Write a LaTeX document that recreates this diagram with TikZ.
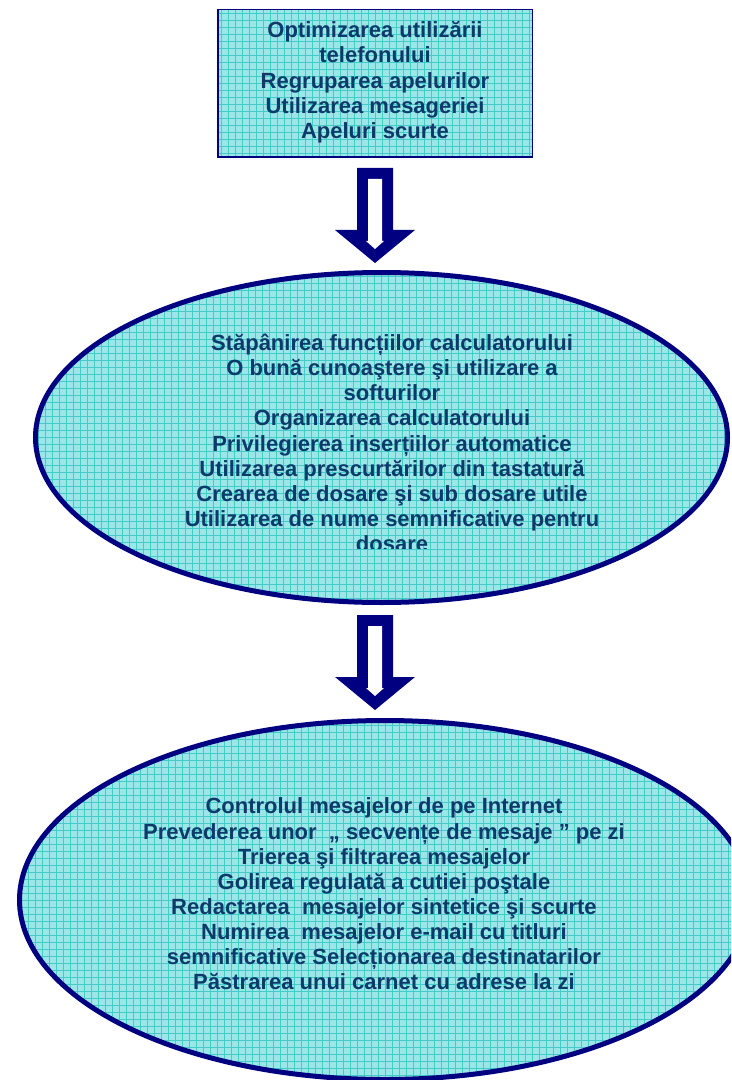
\documentclass[tikz,border=0pt]{standalone}
\usepackage{fontspec}
\setmainfont{Liberation Sans}
\usetikzlibrary{shapes.geometric,calc}
\definecolor{navyc}{HTML}{000080}
\definecolor{cyanbg}{HTML}{9BE6E6}
\definecolor{gridc}{HTML}{45CACA}
\definecolor{textc}{HTML}{0C3B6B}
\tikzset{
  gridfill/.style={fill=cyanbg,
    path picture={\draw[gridc, line width=0.45pt, step=5.25pt]
      ([shift={(-6pt,-6pt)}]path picture bounding box.south west) grid
      ([shift={(6pt,6pt)}]path picture bounding box.north east);}},
  txt/.style={text=textc, font=\bfseries\fontsize{16.5pt}{18.85pt}\selectfont,
    align=center, inner sep=0pt, anchor=base},
  shapeline/.style={draw=navyc, inner sep=0pt},
  blockarrow/.pic={
    \fill[navyc] (-18,0) -- (18,0) -- (18,62) -- (40,62) -- (0,95) -- (-40,62) -- (-18,62) -- cycle;
    \fill[white] (-7,11) -- (7,11) -- (7,73) -- (9,73) -- (0,81) -- (-9,73) -- (-7,73) -- cycle;
  }
}
\begin{document}
\begin{tikzpicture}[x=0.75pt,y=-0.75pt]
\useasboundingbox (0,0) rectangle (731,1080);
\clip (0,0) rectangle (731,1080);

% top box
\node[rectangle, shapeline, line width=1.125pt, gridfill,
      minimum width=314.5*0.75pt, minimum height=147.5*0.75pt] (box) at (375,83.5) {};
% anchor=base is the baseline of the last line
\node[txt] (boxtext) at (375,138.3)
  {Optimizarea utilizării\\telefonului\\Regruparea apelurilor\\Utilizarea mesageriei\\Apeluri scurte};

% first ellipse
\node[ellipse, shapeline, line width=3.75pt, gridfill,
      minimum width=692*0.75pt, minimum height=330*0.75pt] (e1) at (381.5,437.5) {};
\begin{scope}
  \clip (0,0) rectangle (731,548);
  \node[txt] (e1text) at (392,551.6)
    {Stăpânirea funcțiilor calculatorului\\
     O bună cunoaştere şi utilizare a\\
     softurilor\\
     Organizarea calculatorului\\
     Privilegierea inserțiilor automatice\\
     Utilizarea prescurtărilor din tastatură\\
     Crearea de dosare şi sub dosare utile\\
     Utilizarea de nume semnificative pentru\\
     dosare};
\end{scope}

% second ellipse
\node[ellipse, shapeline, line width=3.75pt, gridfill,
      minimum width=731*0.75pt, minimum height=359*0.75pt] (e2) at (385,900) {};
\node[txt] (e2text) at (384,989.9)
  {Controlul mesajelor de pe Internet\\
   Prevederea unor\ \ „ secvențe de mesaje ” pe zi\\
   Trierea şi filtrarea mesajelor\\
   Golirea regulată a cutiei poştale\\
   Redactarea\ \ mesajelor sintetice şi scurte\\
   Numirea\ \ mesajelor e-mail cu titluri\\
   semnificative Selecționarea destinatarilor\\
   Păstrarea unui carnet cu adrese la zi};

% block arrows (connectors)
\coordinate (a1) at ($(box.south)+(0,10)$);
\coordinate (a2) at ($(box.south |- e1.south)+(0,10)$);
\pic at (a1) {blockarrow};
\pic at (a2) {blockarrow};
\end{tikzpicture}
\end{document}
